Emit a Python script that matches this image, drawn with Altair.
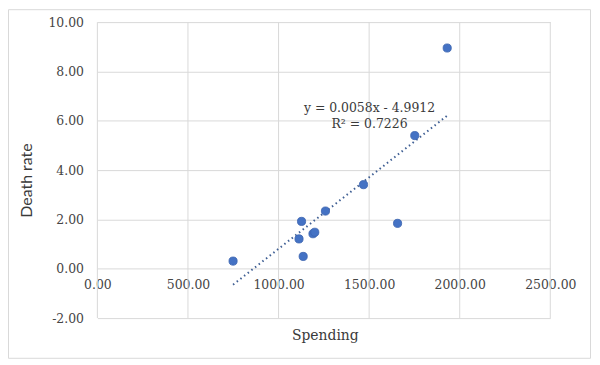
import altair as alt
import pandas as pd

# Data
spending = [749, 1113, 1127, 1136, 1190, 1200, 1259, 1469, 1657, 1752, 1931]
death_rate = [0.31, 1.21, 1.92, 0.50, 1.42, 1.48, 2.34, 3.41, 1.84, 5.40, 8.95]
x_ticks = [0, 500, 1000, 1500, 2000, 2500]
y_ticks = [-2, 0, 2, 4, 6, 8, 10]
slope = 0.0058
intercept = -4.9912
eq_label = "y = 0.0058x - 4.9912\nR\u00b2 = 0.7226"

points_df = pd.DataFrame({"spending": spending, "death": death_rate})
trend_x = [min(spending), max(spending)]
trend_df = pd.DataFrame({"spending": trend_x, "death": [slope * v + intercept for v in trend_x]})
grid_df = pd.DataFrame({"spending": x_ticks})
label_df = pd.DataFrame({"label": [eq_label]})
frame_df = pd.DataFrame({"a": [0]})

GRID = "#D9D9D9"
TXT = "#454545"
xs = alt.Scale(domain=[0, 2500], nice=False, zero=False)
ys = alt.Scale(domain=[-2, 10], nice=False, zero=False)

x_axis = alt.Axis(
    values=x_ticks, format=".2f", grid=False, domain=False, ticks=False,
    offset=-49.7, labelFont="DejaVu Serif", labelFontSize=12.5, labelColor=TXT,
    labelPadding=10, labelFlush=False, labelOverlap=False,
    title="Spending", titleFont="DejaVu Serif", titleFontSize=14,
    titleFontWeight="normal", titleColor="#3A3A3A",
    titleX=229, titleY=67, titleAlign="center", titleBaseline="middle",
)
y_axis = alt.Axis(
    values=y_ticks, format=".2f",
    labelExpr="replace(format(datum.value, '.2f'), '\u2212', '-')",
    grid=True, gridColor=GRID, gridWidth=1,
    domain=False, ticks=False, labelFont="DejaVu Serif", labelFontSize=12.5,
    labelColor=TXT, labelPadding=14, labelFlush=False, labelOverlap=False,
    title="Death rate", titleFont="Lato", titleFontSize=16,
    titleFontWeight="normal", titleColor="#3A3A3A", titleAngle=270,
    titleX=-71, titleY=159, titleAlign="center", titleBaseline="middle",
)

def X():
    return alt.X("spending:Q", scale=xs, axis=x_axis)

def Y():
    return alt.Y("death:Q", scale=ys, axis=y_axis)

frame = alt.Chart(frame_df).mark_rect(fill="transparent", stroke=GRID, strokeWidth=1).encode(
    x=alt.value(-89.5), x2=alt.value(496.5), y=alt.value(-12.5), y2=alt.value(338.5)
)

vgrid = alt.Chart(grid_df).mark_rule(color=GRID, strokeWidth=1).encode(x=X())

pts = alt.Chart(points_df).mark_circle(
    size=68, color="#4472C4", opacity=1, stroke="#3A63AE", strokeWidth=0.8
).encode(x=X(), y=Y())

trend = alt.Chart(trend_df).mark_line(
    color="#3F5F94", strokeWidth=2, strokeDash=[1.5, 3.2]
).encode(x=X(), y=Y())

label = alt.Chart(label_df).mark_text(
    font="DejaVu Serif", fontSize=12.5, color="#3A3A3A", align="center",
    baseline="alphabetic", lineBreak="\n", lineHeight=16.5
).encode(x=alt.value(274), y=alt.value(90), text="label:N")

chart = alt.layer(frame, vgrid, trend, pts, label).properties(
    width=456, height=298,
    autosize=alt.AutoSizeParams(type="none"),
    padding={"left": 90, "top": 13, "right": 42, "bottom": 42},
    background="white",
).configure_view(stroke=None)

chart.save("out.html", embed_options={"renderer": "svg", "actions": False})
